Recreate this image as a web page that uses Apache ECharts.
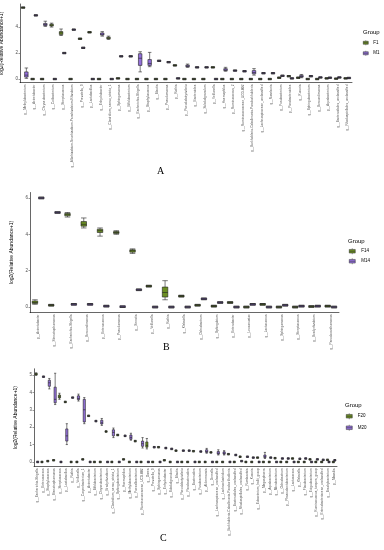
<!DOCTYPE html>
<html><head><meta charset="utf-8">
<script src="https://cdn.jsdelivr.net/npm/echarts@6/dist/echarts.min.js"></script>
<style>html,body{margin:0;padding:0;background:#fff}#c{width:384px;height:550px}</style>
</head><body><div id="c"></div>
<script>
// ---------- Panel A ----------
const aCats = ["g__Methylobacterium","g__Acinetobacter","g__Chryseobacterium","g__Cutibacterium","g__Streptococcus","g__Allorhizobium-Neorhizobium-Pararhizobium-Rhizobium","g__Prevotella_9","g__Lactobacillus","g__Enhydrobacter","g__Clostridium_sensu_stricto_1","g__Sphingomonas","g__Bifidobacterium","g__Escherichia-Shigella","g__Staphylococcus","g__Blautia","g__Pseudomonas","g__Rothia","g__Pseudobutyrivibrio","g__Bacteroides","g__Subdoligranulum","g__Veillonella","g__Haemophilus","g__Ruminococcus_2","g__Ruminococcaceae_UCG-002","g__Burkholderia-Caballeronia-Paraburkholderia","g__Lachnospiraceae_unclassified","g__Roseburia","g__Fusobacterium","g__Parabacteroides","g__Kocuria","g__Sphingobacterium","g__Brevundimonas","g__Aquabacterium","g__Bacteroidales_unclassified","g__Rhodospirillales_unclassified"];
const aF = [5.5, 0, 0, [4.0,4.08,4.15,4.22,4.3], [3.35,3.42,3.55,3.65,3.85], 0, 3.1, 3.6, 0, [3.05,3.1,3.15,3.22,3.3], 0.05, 0, 0, 0, 0, 0, 1.05, 0, 0, 0, 0.9, 0, 0, 0, 0, 0, 0, 0.1, 0.22, 0.1, 0, 0, 0.05, 0.03, 0.05];
const aM = [[0.05,0.15,0.3,0.55,0.85], 4.9, [4.05,4.12,4.2,4.28,4.45], 0, 2.0, 3.8, 2.4, 0, [3.3,3.38,3.45,3.55,3.65], 0, 1.75, 1.75, [0.55,1.05,1.6,1.95,2.1], [0.95,1.05,1.2,1.5,2.05], 1.4, 1.3, 0.05, [0.9,0.95,1.0,1.07,1.15], 0.9, 0.9, 0, [0.6,0.65,0.7,0.8,0.9], 0.65, 0.6, [0.3,0.4,0.5,0.65,0.8], 0.45, 0.45, 0.25, 0.05, [0.1,0.15,0.2,0.28,0.35], 0.22, 0.12, 0.1, 0.12, 0.08];
const aTicks = [0, 2, 4];

// ---------- Panel B ----------
const bCats = ["g__Acinetobacter","g__Stenotrophomonas","g__Escherichia-Shigella","g__Brevundimonas","g__Enterococcus","g__Pseudomonas","g__Serratia","g__Veillonella","g__Rothia","g__Klebsiella","g__Ochrobactrum","g__Sphingobium","g__Enterobacter","g__Leuconostoc","g__Lactococcus","g__Sphingomonas","g__Streptococcus","g__Bradyrhizobium","g__Pseudoxanthomonas"];
const bF = [[0.15,0.2,0.25,0.33,0.4], 0.1, [4.95,5.02,5.1,5.15,5.2], [4.35,4.45,4.55,4.7,4.9], [3.9,4.1,4.2,4.28,4.35], [4.0,4.05,4.1,4.15,4.2], [2.95,3.02,3.1,3.15,3.2], 1.15, [0.4,0.55,0.8,1.1,1.45], 0.6, 0.1, 0.05, 0.25, 0, 0.15, 0, 0, 0.03, 0.05];
const bM = [6.0, 5.2, 0.15, 0.15, 0.05, 0.02, 0.95, 0, 0, 0, 0.45, 0.25, 0, 0.15, 0, 0.1, 0.05, 0.05, 0];
const bTicks = [0, 2, 4, 6];

// ---------- Panel C ----------
const cCats = ["g__Escherichia-Shigella","g__Enterococcus","g__Staphylococcus","g__Stenotrophomonas","g__Streptococcus","g__Lactobacillus","g__Rothia","g__Veillonella","g__Corynebacterium_1","g__Acinetobacter","g__Bifidobacterium","g__Chryseobacterium","g__Bradyrhizobium","g__Clostridium_sensu_stricto_1","g__Sphingobacterium","g__Haemophilus","g__Methylobacterium","g__Faecalibacterium","g__Ruminococcaceae_UCG-002","g__Dorea","g__Prevotella_9","g__Sphingomonas","g__Enhydrobacter","g__Subdoligranulum","g__Blautia","g__Pseudobutyrivibrio","g__Parabacteroides","g__Bacteroides","g__Fusobacterium","g__Akkermansia","g__Gemella","g__Lachnospiraceae_unclassified","g__Lachnoclostridium","g__Burkholderia-Caballeronia-Paraburkholderia","g__Bacteroidales_unclassified","g__Rhodospirillales_unclassified","g__Romboutsia","g__Kocuria","g__Eubacterium_hallii_group","g__Megasphaera","g__Aquabacterium","g__Microbacterium","g__Ochrobactrum","g__Phascolarctobacterium","g__Lactococcus","g__Klebsiella","g__Flavobacterium","g__Exiguobacterium","g__Ruminococcus_torques_group","g__Enterobacteriaceae_unclassified","g__Brachybacterium","g__Massilia"];
const cF = [[4.98,5.0,5.05,5.1,5.12], 0, 0.05, 0.1, [3.6,3.68,3.75,3.85,3.95], 3.45, 0, 0, 0.15, 2.65, 0, 0, 1.75, 0, 1.55, 0.15, 0, 1.2, 0, [0.75,0.85,0.95,1.15,1.35], 0, 0.85, 0.1, 0, 0.65, 0, 0, 0.62, 0, 0, 0.55, 0, 0, 0.45, 0, 0.3, 0, 0, 0.25, 0, 0, 0.22, 0, 0, 0.2, 0, 0, 0.15, 0, 0, 0.12, 0];
const cM = [0, 4.9, [4.2,4.35,4.55,4.7,4.8], [3.3,3.4,3.6,4.3,5.1], 0, [1.0,1.2,1.5,1.9,2.2], 3.7, [3.5,3.58,3.65,3.8,3.9], [2.2,2.3,3.0,3.6,3.7], 0, 2.35, [2.1,2.18,2.25,2.4,2.5], 0, [1.4,1.5,1.7,1.85,1.95], 0, 1.5, [1.25,1.3,1.4,1.55,1.65], 0, [0.8,0.9,1.05,1.2,1.4], 0, 0.85, 0, 0.8, 0.75, 0, 0.65, 0.65, 0, 0.6, [0.5,0.55,0.6,0.7,0.78], 0, [0.4,0.45,0.5,0.6,0.7], [0.4,0.45,0.5,0.58,0.65], 0, 0.4, 0.05, 0.3, 0.25, 0, [0.2,0.25,0.3,0.4,0.55], 0.25, 0, 0.2, 0.2, 0, 0.18, 0.2, 0, 0.15, 0.12, 0, 0.1];
const cTicks = [0, 1, 2, 3, 4, 5];

const groupsA = ["F1", "M1"], groupsB = ["F14", "M14"], groupsC = ["F20", "M20"];

// ---------- rendering ----------
const OLIVE = '#6b8e23', PURPLE = '#9370db';
const FONT = 'Liberation Sans, Arial, sans-serif';
// a single number is a degenerate (near-zero IQR) box drawn as a short dash
function toBoxes(arr, half) {
  return arr.map(v => Array.isArray(v) ? v : [v - half, v - half, v, v + half, v + half]);
}
const ICON = 'path://M5,0L5,2M0,2L10,2L10,8L0,8ZM0,5L10,5M5,8L5,10';

const grids = [
  {left: 20, top: 4, width: 332, height: 78.6},
  {left: 30, top: 192.5, width: 309, height: 120},
  {left: 34, top: 368.8, width: 303, height: 97.6}
];
const yRanges = [[-0.275, 5.775, aTicks, 12], [-0.3, 6.3, bTicks, 11], [-0.255, 5.355, cTicks, 15]];
const catsList = [aCats, bCats, cCats];

function xAxis(i) {
  return {
    type: 'category', gridIndex: i, data: catsList[i],
    axisLine: {onZero: false, lineStyle: {color: '#000', width: 0.6}},
    axisTick: {alignWithLabel: true, length: 1.5, lineStyle: {color: '#333', width: 0.5}},
    axisLabel: {interval: 0, rotate: 90, fontSize: 3.2, margin: 2, color: '#4d4d4d', fontFamily: FONT},
    splitLine: {show: false}
  };
}
function yAxis(i) {
  const r = yRanges[i];
  return {
    type: 'value', gridIndex: i, min: r[0], max: r[1],
    name: 'log2(Relative Abundance+1)', nameLocation: 'middle', nameGap: r[3],
    nameTextStyle: {fontSize: 5, color: '#000', fontFamily: FONT},
    axisLine: {show: true, lineStyle: {color: '#000', width: 0.6}},
    axisTick: {show: true, length: 1.5, customValues: r[2], lineStyle: {color: '#333', width: 0.5}},
    axisLabel: {fontSize: 4.5, margin: 2, color: '#4d4d4d', fontFamily: FONT, customValues: r[2]},
    splitLine: {show: false}
  };
}
function series(name, data, i, color, bw) {
  return {
    type: 'boxplot', name, xAxisIndex: i, yAxisIndex: i, data,
    boxWidth: [bw, bw], silent: true, animation: false,
    itemStyle: {color, borderColor: '#222', borderWidth: 0.6},
    emphasis: {disabled: true}
  };
}
function legend(names, left, top, w, h, gap) {
  return {
    data: [{name: names[0], itemStyle: {color: OLIVE, borderColor: '#333', borderWidth: 0.5}},
           {name: names[1], itemStyle: {color: PURPLE, borderColor: '#333', borderWidth: 0.5}}],
    orient: 'vertical', left, top, itemWidth: w, itemHeight: h, itemGap: gap, padding: 0,
    icon: ICON, selectedMode: false,
    textStyle: {fontSize: 4.5, color: '#000', fontFamily: FONT}
  };
}
function title(text, left, top, size, fam) {
  return {text, left, top, padding: 0,
    textStyle: {fontSize: size, fontWeight: 'normal', color: '#000', fontFamily: fam || FONT}};
}

const chart = echarts.init(document.getElementById('c'), null, {renderer: 'canvas'});
chart.setOption({
  backgroundColor: '#fff',
  animation: false,
  grid: grids.map(g => Object.assign({outerBoundsMode: 'none', containLabel: false}, g)),
  xAxis: [0, 1, 2].map(xAxis),
  yAxis: [0, 1, 2].map(yAxis),
  title: [
    title('Group', 363, 29, 6), title('Group', 348, 238.5, 6), title('Group', 345, 402, 6),
    title('A', 157, 166, 10, 'Liberation Serif, serif'),
    title('B', 163, 342, 10, 'Liberation Serif, serif'),
    title('C', 160, 533, 10, 'Liberation Serif, serif')
  ],
  legend: [
    legend(groupsA, 363, 40, 5, 5, 5),
    legend(groupsB, 349, 248, 8, 6, 3.5),
    legend(groupsC, 346, 413, 7, 6, 5)
  ],
  series: [
    series(groupsA[0], toBoxes(aF, 0.05), 0, OLIVE, 3.5),
    series(groupsA[1], toBoxes(aM, 0.05), 0, PURPLE, 3.5),
    series(groupsB[0], toBoxes(bF, 0.045), 1, OLIVE, 5.5),
    series(groupsB[1], toBoxes(bM, 0.045), 1, PURPLE, 5.5),
    series(groupsC[0], toBoxes(cF, 0.04), 2, OLIVE, 2.2),
    series(groupsC[1], toBoxes(cM, 0.04), 2, PURPLE, 2.2)
  ]
});
</script>
</body></html>
